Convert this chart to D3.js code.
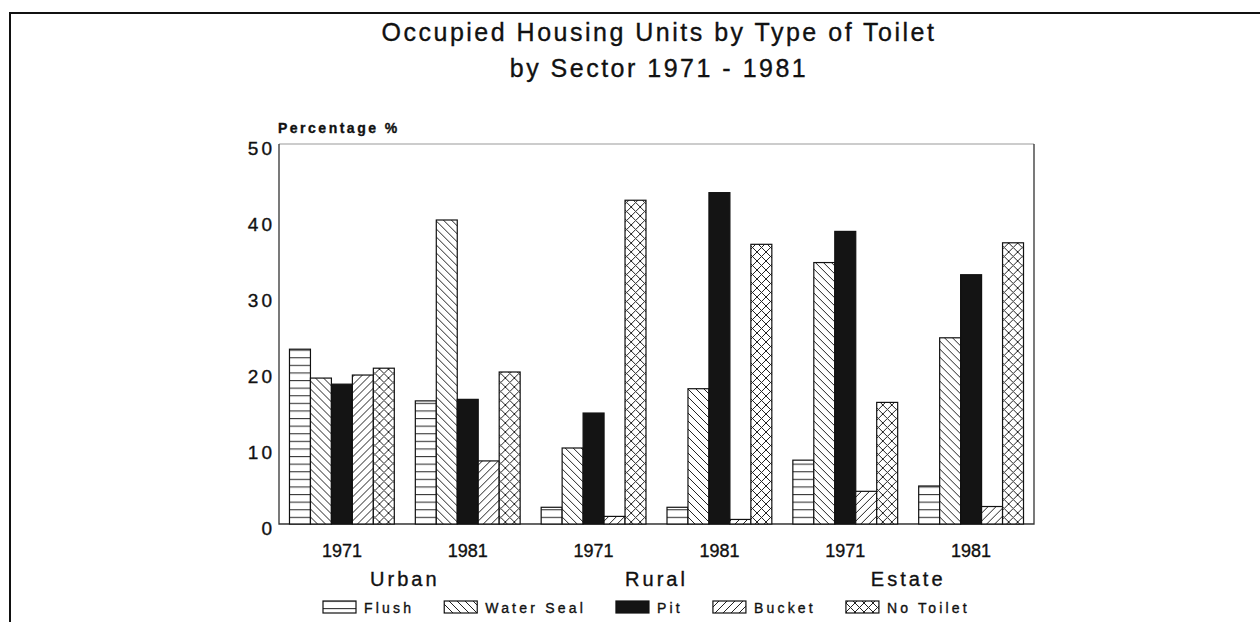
<!DOCTYPE html>
<html>
<head>
<meta charset="utf-8">
<script src="https://cdn.jsdelivr.net/npm/d3@7"></script>
<style>
  body { margin: 0; background: #fff; }
  svg { display: block; font-family: "Liberation Sans", Arial, Helvetica, sans-serif; }
  svg text { fill: #111; stroke: #111; stroke-width: 0.35px; }
</style>
</head>
<body>
<svg id="chart" width="1260" height="622"></svg>
<script>
// chart values
var sectors = ["Urban", "Rural", "Estate"]
var years = ["1971", "1981"]
var toiletTypes = ["Flush", "Water Seal", "Pit", "Bucket", "No Toilet"]
var yTicks = [0, 10, 20, 30, 40, 50]

// one value per group: Urban 1971, Urban 1981, Rural 1971, Rural 1981, Estate 1971, Estate 1981
var flush     = [23.0, 16.2, 2.2, 2.2, 8.4, 5.0]
var waterSeal = [19.2, 40.0, 10.0, 17.8, 34.4, 24.5]
var pit       = [18.4, 16.4, 14.6, 43.6, 38.5, 32.8]
var bucket    = [19.6, 8.3, 1.0, 0.6, 4.3, 2.3]
var noToilet  = [20.5, 20.0, 42.6, 36.8, 16.0, 37.0]

var series = [flush, waterSeal, pit, bucket, noToilet]

var groups = []
sectors.forEach(s => years.forEach(y => groups.push({sector: s, year: y, key: s + "-" + y})))
groups.forEach((g, i) => {
    g.values = toiletTypes.map((t, j) => ({type: t, value: series[j][i]}))
})

var svg = d3.select("#chart")
var plotLeft = 279, plotRight = 1034, plotTop = 144, plotBottom = 524

// patterns for the hatched bars
var defs = svg.append("defs")

function hatch(id, size, draw) {
    var p = defs.append("pattern")
        .attr("id", id)
        .attr("patternUnits", "userSpaceOnUse")
        .attr("width", size).attr("height", size)
    p.append("rect").attr("width", size).attr("height", size).attr("fill", "#fff")
    draw(p, size)
}

hatch("p-flush", 7.6, (p, s) => {
    p.append("line").attr("x1", 0).attr("x2", s).attr("y1", 0.6).attr("y2", 0.6)
        .attr("stroke", "#222").attr("stroke-width", 1)
})
hatch("p-water", 8, (p, s) => {
    p.append("path").attr("d", "M0,0L8,8M-2,6L2,10M6,-2L10,2")
        .attr("stroke", "#222").attr("stroke-width", 1)
})
hatch("p-bucket", 8, (p, s) => {
    p.append("path").attr("d", "M0,8L8,0M-2,2L2,-2M6,10L10,6")
        .attr("stroke", "#222").attr("stroke-width", 1)
})
hatch("p-none", 9, (p, s) => {
    p.append("path").attr("d", "M0,0L9,9M-2,7L2,11M7,-2L11,2M0,9L9,0M-2,2L2,-2M7,11L11,7")
        .attr("stroke", "#222").attr("stroke-width", 1)
})

var fills = {
    "Flush": "url(#p-flush)",
    "Water Seal": "url(#p-water)",
    "Pit": "#141414",
    "Bucket": "url(#p-bucket)",
    "No Toilet": "url(#p-none)"
}

// outer frame of the page
svg.append("path")
    .attr("d", "M10,622V13H1260")
    .attr("fill", "none").attr("stroke", "#111").attr("stroke-width", 2)

// title
var title = svg.append("text")
    .attr("text-anchor", "middle")
    .style("font-size", "25px").style("letter-spacing", "2.5px")
title.append("tspan").attr("x", 659).attr("y", 41).text("Occupied Housing Units by Type of Toilet")
title.append("tspan").attr("x", 659).attr("y", 77).text("by Sector 1971 - 1981")

var x0 = d3.scaleBand()
    .domain(groups.map(d => d.key))
    .range([plotLeft, plotRight])
    .paddingInner(0.167)
    .paddingOuter(0.0833)

var x1 = d3.scaleBand()
    .domain(toiletTypes)
    .range([0, x0.bandwidth()])

var y = d3.scaleLinear()
    .domain([0, 50])
    .range([plotBottom, plotTop])

// plot frame
svg.append("line").attr("x1", plotLeft).attr("x2", plotRight).attr("y1", plotTop).attr("y2", plotTop)
    .attr("stroke", "#999").attr("stroke-width", 1)
svg.append("path")
    .attr("d", `M${plotLeft},${plotTop}V${plotBottom}H${plotRight}V${plotTop}`)
    .attr("fill", "none").attr("stroke", "#333").attr("stroke-width", 1.3)

// y axis labels
var yAxis = svg.append("g")
    .attr("transform", `translate(${plotLeft},0)`)
    .call(d3.axisLeft(y).tickValues(yTicks).tickSize(0).tickPadding(4))
yAxis.select(".domain").remove()
yAxis.selectAll("text")
    .attr("dy", "0.55em")
    .style("font-size", "19px").style("letter-spacing", "3px")
    .style("font-family", "'Liberation Sans', Arial, sans-serif")

svg.append("text")
    .attr("x", 278).attr("y", 133)
    .style("font-size", "14px").style("font-weight", "bold").style("letter-spacing", "2.5px")
    .text("Percentage %")

// bars
var g = svg.append("g").selectAll("g")
    .data(groups)
    .join("g")
    .attr("transform", d => `translate(${x0(d.key)},0)`)

g.selectAll("rect")
    .data(d => d.values)
    .join("rect")
    .attr("x", d => x1(d.type))
    .attr("y", d => y(d.value))
    .attr("width", x1.bandwidth())
    .attr("height", d => y(0) - y(d.value))
    .attr("fill", d => fills[d.type])
    .attr("stroke", "#111")
    .attr("stroke-width", 1.2)

// year labels under each group
var xAxis = svg.append("g")
    .attr("transform", `translate(0,${plotBottom})`)
    .call(d3.axisBottom(x0).tickSize(0).tickPadding(20).tickFormat(k => k.split("-")[1]))
xAxis.select(".domain").remove()
xAxis.selectAll("text")
    .style("font-size", "18px")
    .style("font-family", "'Liberation Sans', Arial, sans-serif")

// sector labels centred under their two years
svg.append("g").selectAll("text")
    .data(sectors)
    .join("text")
    .attr("x", s => (x0(s + "-1971") + x0(s + "-1981") + x0.bandwidth()) / 2)
    .attr("y", 586)
    .attr("text-anchor", "middle")
    .style("font-size", "20px").style("letter-spacing", "3px")
    .text(s => s)

// legend
var legend = svg.append("g")
var lx = 323
toiletTypes.forEach(t => {
    legend.append("rect")
        .attr("x", lx).attr("y", 601)
        .attr("width", 33).attr("height", 12)
        .attr("fill", fills[t]).attr("stroke", "#111").attr("stroke-width", 1.2)
    var txt = legend.append("text")
        .attr("x", lx + 41).attr("y", 613)
        .style("font-size", "14px").style("letter-spacing", "3.2px")
        .text(t)
    lx = lx + 41 + txt.node().getComputedTextLength() + 30
})
</script>
</body>
</html>
